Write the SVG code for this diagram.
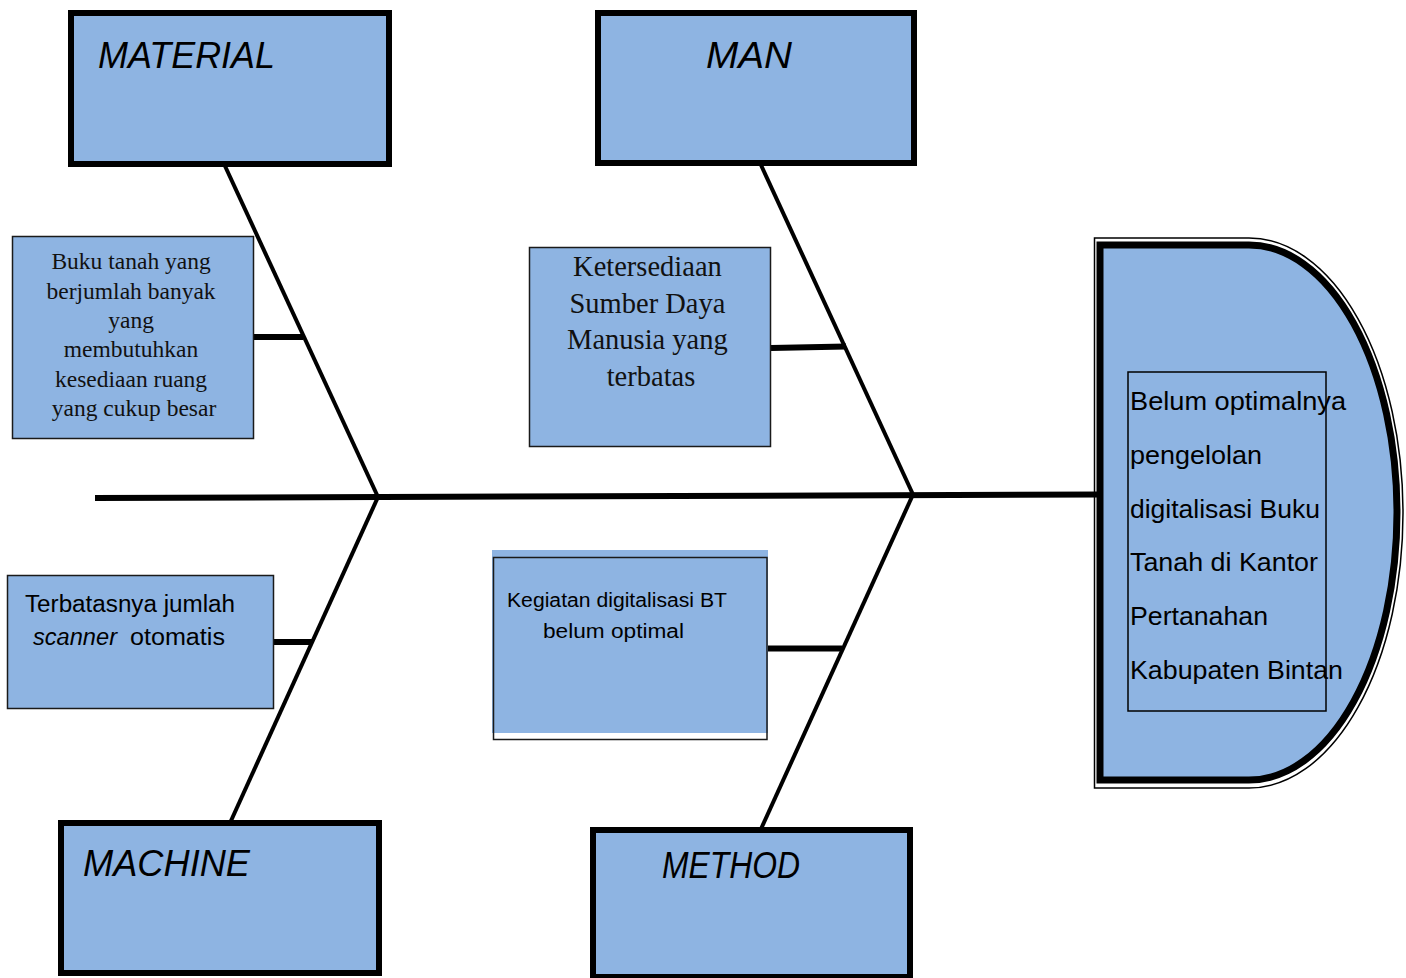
<svg xmlns="http://www.w3.org/2000/svg" width="1406" height="978" viewBox="0 0 1406 978">
<style>
.cat{fill:#8EB4E2;stroke:#000;stroke-width:6}
.cause{fill:#8EB4E2;stroke:#1a1a1a;stroke-width:1.5}
.bone{stroke:#000;stroke-width:4;fill:none;stroke-linecap:butt}
.rib{stroke:#000;stroke-width:6;fill:none}
.h{font-family:"Liberation Sans",Arial,sans-serif;font-style:italic;fill:#000;font-size:37px}
.ser{font-family:"Liberation Serif","Times New Roman",serif;fill:#111;text-anchor:middle}
.sans{font-family:"Liberation Sans",Arial,sans-serif;fill:#000}
</style>
<rect width="1406" height="978" fill="#fff"/>
<g id="connectors">
<line x1="95" y1="498" x2="1100" y2="494.5" stroke="#000" stroke-width="6"/>
<line class="bone" x1="225" y1="166" x2="378" y2="497"/>
<line class="bone" x1="378" y1="497" x2="230" y2="823"/>
<line class="bone" x1="761" y1="165" x2="913" y2="494.5"/>
<line class="bone" x1="913" y1="494.5" x2="761" y2="829"/>
<line class="rib" x1="254" y1="337" x2="303" y2="337"/>
<line class="rib" x1="771" y1="348" x2="846" y2="346.5"/>
<line class="rib" x1="274" y1="642" x2="313" y2="642"/>
<line class="rib" x1="768" y1="648.5" x2="842" y2="648.5"/>
</g>
<g id="material">
<rect class="cat" x="71" y="13" width="318" height="151"/>
<text class="h" x="98" y="68" textLength="177" lengthAdjust="spacingAndGlyphs">MATERIAL</text>
</g>
<g id="man">
<rect class="cat" x="598" y="13" width="316" height="150"/>
<text class="h" x="706" y="68" textLength="86" lengthAdjust="spacingAndGlyphs">MAN</text>
</g>
<g id="machine">
<rect class="cat" x="61" y="823" width="318" height="150"/>
<text class="h" x="83" y="876" textLength="167" lengthAdjust="spacingAndGlyphs">MACHINE</text>
</g>
<g id="method">
<rect class="cat" x="593" y="830" width="317" height="147"/>
<text class="h" x="662" y="878" font-size="33" textLength="138" lengthAdjust="spacingAndGlyphs">METHOD</text>
</g>
<g id="cause-material">
<rect class="cause" x="12.5" y="236.5" width="241" height="202"/>
<text class="ser" font-size="23.5">
<tspan x="134" y="269">Buku tanah yang</tspan>
<tspan x="134" y="298.5">berjumlah banyak</tspan>
<tspan x="134" y="328">yang</tspan>
<tspan x="134" y="357">membutuhkan</tspan>
<tspan x="134" y="386.5">kesediaan ruang</tspan>
<tspan x="134" y="416">yang cukup besar</tspan>
</text>
</g>
<g id="cause-man">
<rect class="cause" x="529.5" y="247.5" width="241" height="199"/>
<text class="ser" font-size="28.5">
<tspan x="651" y="276">Ketersediaan</tspan>
<tspan x="651" y="312.5">Sumber Daya</tspan>
<tspan x="651" y="349">Manusia yang</tspan>
<tspan x="651" y="385.5">terbatas</tspan>
</text>
</g>
<g id="cause-machine">
<rect class="cause" x="7.5" y="575.5" width="266" height="133"/>
<text class="sans" font-size="23" x="25" y="612" textLength="210" lengthAdjust="spacingAndGlyphs">Terbatasnya jumlah</text>
<text class="sans" font-size="23" font-style="italic" x="33" y="645" textLength="84" lengthAdjust="spacingAndGlyphs">scanner</text>
<text class="sans" font-size="23" x="130" y="645" textLength="95" lengthAdjust="spacingAndGlyphs">otomatis</text>
</g>
<g id="cause-method">
<rect x="492" y="550" width="276" height="183" fill="#8EB4E2"/>
<rect x="493.5" y="557.5" width="273.5" height="182" fill="none" stroke="#1a1a1a" stroke-width="1.5"/>
<text class="sans" font-size="19.5" x="507" y="607" textLength="220" lengthAdjust="spacingAndGlyphs">Kegiatan digitalisasi BT</text>
<text class="sans" font-size="19.5" x="543" y="638" textLength="141" lengthAdjust="spacingAndGlyphs">belum optimal</text>
</g>
<g id="effect">
<path d="M1094.5,238 L1249,238 A154,275 0 0 1 1249,788 L1094.5,788 Z" fill="none" stroke="#000" stroke-width="1.5"/>
<path d="M1100,245 L1249,245 A148,267.5 0 0 1 1249,780 L1100,780 Z" fill="#8EB4E2" stroke="#000" stroke-width="7"/>
<rect x="1128" y="372" width="198" height="339" fill="none" stroke="#000" stroke-width="1.5"/>
<text class="sans" font-size="26">
<tspan x="1130" y="410" textLength="216" lengthAdjust="spacingAndGlyphs">Belum optimalnya</tspan>
<tspan x="1130" y="464" textLength="132" lengthAdjust="spacingAndGlyphs">pengelolan</tspan>
<tspan x="1130" y="518" textLength="190" lengthAdjust="spacingAndGlyphs">digitalisasi Buku</tspan>
<tspan x="1130" y="571" textLength="188" lengthAdjust="spacingAndGlyphs">Tanah di Kantor</tspan>
<tspan x="1130" y="625" textLength="138" lengthAdjust="spacingAndGlyphs">Pertanahan</tspan>
<tspan x="1130" y="679" textLength="213" lengthAdjust="spacingAndGlyphs">Kabupaten Bintan</tspan>
</text>
</g>
</svg>
